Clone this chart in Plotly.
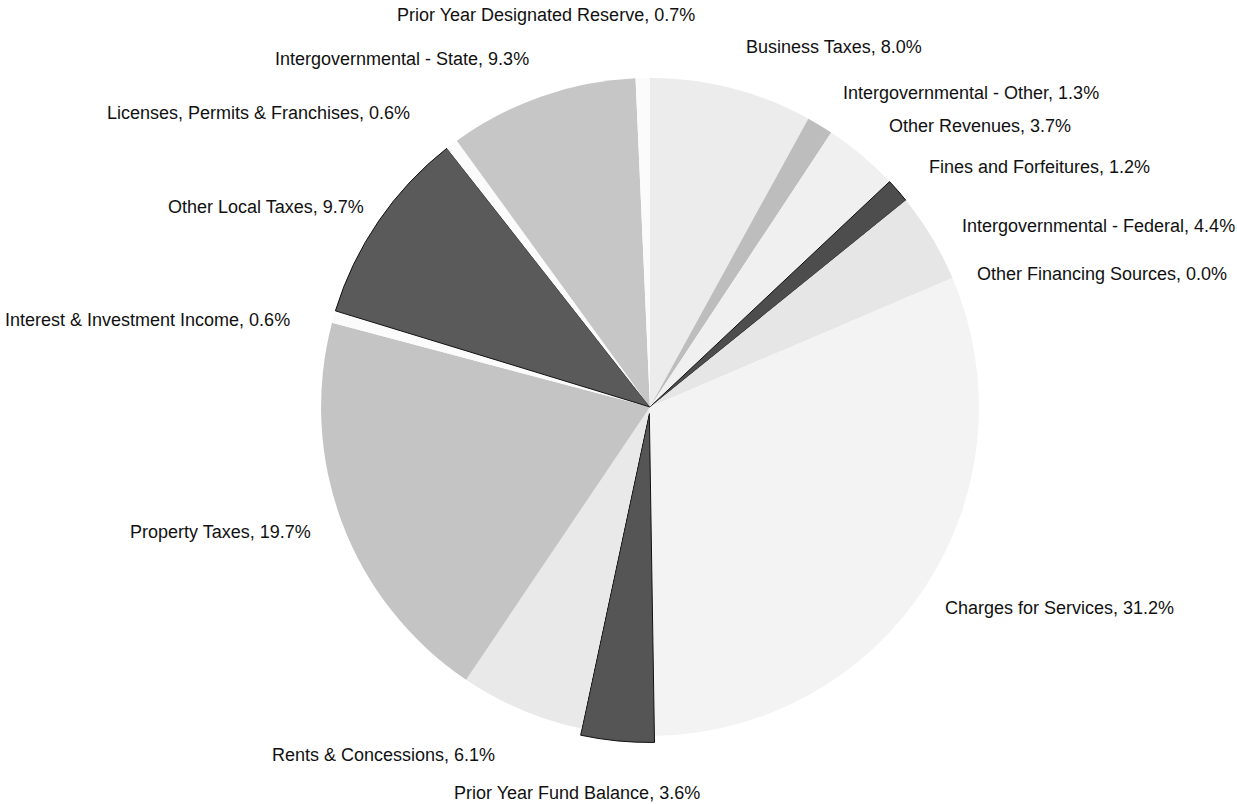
import math
import plotly.graph_objects as go

# ---- data (clockwise from 12 o'clock) ----
categories = [
    "Business Taxes",
    "Intergovernmental - Other",
    "Other Revenues",
    "Fines and Forfeitures",
    "Intergovernmental - Federal",
    "Other Financing Sources",
    "Charges for Services",
    "Prior Year Fund Balance",
    "Rents & Concessions",
    "Property Taxes",
    "Interest & Investment Income",
    "Other Local Taxes",
    "Licenses, Permits & Franchises",
    "Intergovernmental - State",
    "Prior Year Designated Reserve",
]
shares = [8.0, 1.3, 3.7, 1.2, 4.4, 0.0, 31.2, 3.6, 6.1, 19.7, 0.6, 9.7, 0.6, 9.3, 0.7]

# ---- styles ----
fill_colors = [
    "#ececec", "#bdbdbd", "#f0f0f0", "#4d4d4d", "#e6e6e6", "#f2f2f2",
    "#f3f3f3", "#555555", "#e9e9e9", "#c4c4c4", "#fbfbfb", "#5a5a5a",
    "#fbfbfb", "#c6c6c6", "#fbfbfb",
]
line_widths = [0, 0, 0, 1, 0, 0, 0, 1, 0, 0, 0, 1, 0, 0, 0]
pulls = [0, 0, 0, 0, 0, 0, 0, 0.02, 0, 0, 0, 0, 0, 0, 0]
# label nudges in screen pixels (dx right, dy down)
label_dx = [4, 4, 4, 4, 0, -8, -10, -38, -12, 2, -10, 14, -20, 0, -96]
label_dy = [2, -4, -4, -2, 5, 9, 4, 14, 15, -2, 12, 5, -5, -6, -18]

W, H = 1237, 804
dom_x = [0.0509, 1.0]
dom_y = [0.0765, 0.9111]

fig = go.Figure(go.Pie(
    labels=categories,
    values=shares,
    sort=False,
    direction="clockwise",
    rotation=0,
    pull=pulls,
    textinfo="none",
    marker=dict(colors=fill_colors,
                line=dict(color="#111111", width=line_widths)),
    domain=dict(x=dom_x, y=dom_y),
    showlegend=False,
))

# pie geometry as plotly computes it
wpx = W * (dom_x[1] - dom_x[0])
hpx = H * (dom_y[1] - dom_y[0])
r = min(wpx, hpx) / (2 + 2 * max(pulls))
cx = W * (dom_x[0] + dom_x[1]) / 2
cy = H * (1 - (dom_y[0] + dom_y[1]) / 2)

total = sum(shares)
cum = 0.0
annotations = []
for name, v, dx, dy in zip(categories, shares, label_dx, label_dy):
    mid = (cum + v / 2) / total * 2 * math.pi
    cum += v
    R = r * 1.10
    px = cx + R * math.sin(mid)
    py = cy - R * math.cos(mid)
    s, c = math.sin(mid), math.cos(mid)
    if s > 0.2:
        xa = "left"
    elif s < -0.2:
        xa = "right"
    else:
        xa = "center"
    if c > 0.95:
        ya = "bottom"
    elif c < -0.95:
        ya = "top"
    else:
        ya = "middle"
    annotations.append(dict(
        x=px / W, y=1 - py / H, xref="paper", yref="paper",
        xshift=dx, yshift=-dy,
        text=f"{name}, {v:.1f}%", showarrow=False,
        xanchor=xa, yanchor=ya,
        font=dict(family="Liberation Sans, Arial, sans-serif", size=18, color="#111111"),
    ))

fig.update_layout(
    width=W, height=H,
    margin=dict(l=0, r=0, t=0, b=0),
    paper_bgcolor="white",
    plot_bgcolor="white",
    annotations=annotations,
)

fig.write_html("out.html", config={"displayModeBar": False},
               post_script="document.body.style.margin='0px';")
